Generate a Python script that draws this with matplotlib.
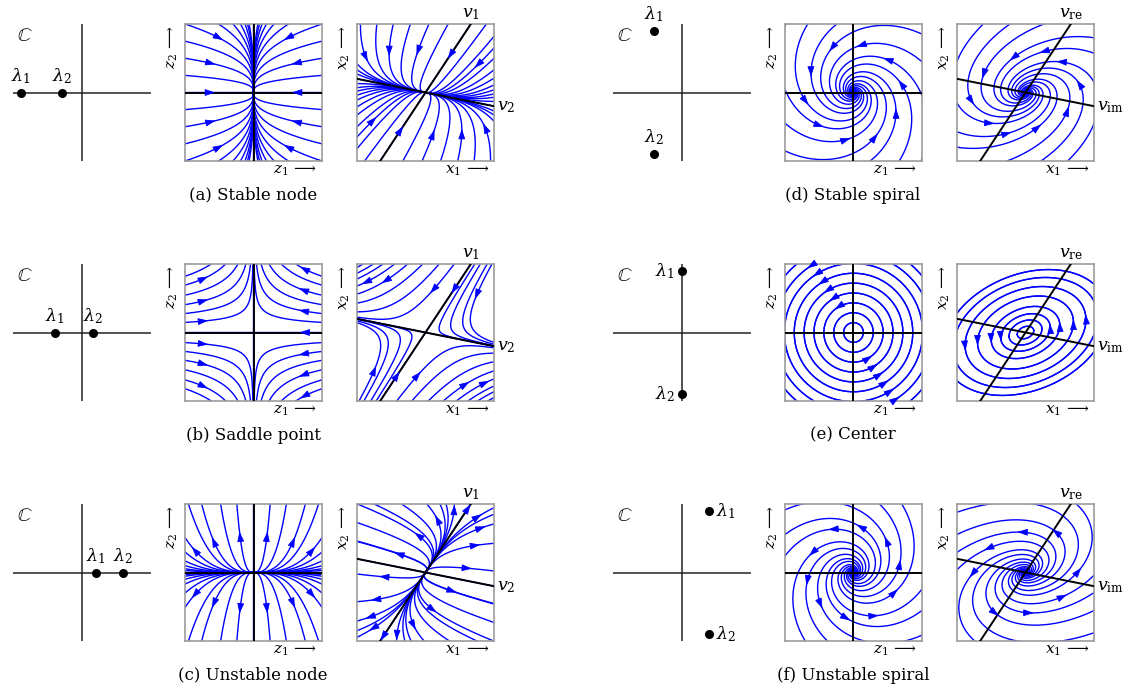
import numpy as np
import matplotlib.pyplot as plt

plt.rcParams['font.family'] = ['DejaVu Serif']
plt.rcParams['mathtext.fontset'] = 'dejavuserif'

W, H = 1126, 687

captions = ['(a) Stable node', '(b) Saddle point', '(c) Unstable node',
            '(d) Stable spiral', '(e) Center', '(f) Unstable spiral']

# eigenvalues (real part, imaginary part)
lam1 = [(-0.88, 0.0), (-0.39, 0.0), (0.20, 0.0), (-0.41, 0.90), (0.0, 0.90), (0.39, 0.90)]
lam2 = [(-0.29, 0.0), (0.16, 0.0), (0.59, 0.0), (-0.41, -0.90), (0.0, -0.90), (0.39, -0.90)]
lam_side = ['top', 'top', 'top', 'top', 'left', 'right']

# eigenvector directions in degrees
v_angles = (56.5, -11.3)
v_names_real = (r'$v_1$', r'$v_2$')
v_names_cplx = (r'$v_{\mathrm{re}}$', r'$v_{\mathrm{im}}$')

# orbit seeds / arrow spots in the diagonal coordinates z
sym_z = ['quad', 'flip', 'quad', 'point', 'point', 'point']
seeds_z = [
    [(1, 0.25), (1, 0.5), (1, 0.75), (1, 1), (0.51, 1), (0.30, 1), (0.19, 1),
     (0.125, 1), (0.088, 1), (0.064, 1)],
    [(-0.7, 0.17), (-0.7, 0.32), (-0.7, 0.47), (-0.7, 0.63), (-0.7, 0.80), (-0.7, 0.95),
     (0.7, 0.17), (0.7, 0.32), (0.7, 0.47), (0.7, 0.63), (0.7, 0.80), (0.7, 0.95)],
    [(0.88, 0.35), (0.59, 0.48), (0.2, 0.56), (0.95, 1), (0.48, 1), (1, 0.3), (1, 0.17),
     (1, 0.1), (1, 0.055), (1, 0.03)],
    [(0.08, 0.68), (0.47, 0.49), (0.68, 0.15), (0.62, -0.27), (0.33, -0.63)],
    [(-0.08, 0.12), (-0.16, 0.24), (-0.24, 0.36), (-0.32, 0.48), (-0.40, 0.60),
     (-0.48, 0.72), (-0.56, 0.84), (-0.64, 0.96), (-0.72, 1.08)],
    [(0.08, 0.68), (0.47, 0.49), (0.68, 0.15), (0.62, -0.27), (0.33, -0.63)],
]
arrows_z = [
    [(0.6, 0), (0.59, 0.42), (0.48, 0.78)],
    [(-0.7, 0.17), (-0.7, 0.47), (-0.7, 0.80), (0.7, 0.33), (0.7, 0.64), (0.7, 0.92), (0.71, 0)],
    [(0.88, 0.34), (0.59, 0.48), (0.2, 0.56)],
    [(0.08, 0.68), (0.47, 0.49), (0.68, 0.15), (0.62, -0.27), (0.33, -0.63)],
    [(-0.24, 0.36), (-0.32, 0.48), (-0.40, 0.60), (-0.48, 0.72), (-0.56, 0.84), (-0.64, 0.96)],
    [(0.08, 0.68), (0.47, 0.49), (0.68, 0.15), (0.62, -0.27), (0.33, -0.63)],
]

# orbit seeds / arrow spots in the original coordinates x (point symmetric)
seeds_x = [
    [(-0.95, 1), (-0.71, 1), (-0.47, 1), (-0.22, 1), (0.05, 1), (0.33, 1), (0.89, 1),
     (-1, 0.42), (-1, 0.33), (-1, 0.27), (-1, 0.13), (-1, 0.07), (-1, 0.02), (-1, -0.04),
     (-1, -0.11), (-1, -0.21), (-1, -0.33), (-1, -0.5), (-1, -0.65), (-1, -0.82)],
    [(-0.91, 1), (-0.76, 1), (-0.62, 1), (-0.45, 1), (-0.26, 1), (-0.04, 1), (0.2, 1),
     (0.42, 1), (0.72, 1), (0.8, 1), (0.9, 1), (0.97, 1)],
    [(0.64, 0.06), (0.42, -0.28), (0.13, -0.56), (0.76, 0.40), (0.84, 0.66), (0.79, 0.83),
     (0.42, 0.95), (0.16, 0.80), (0.21, 1), (0.30, 1), (-0.35, 1), (-0.75, 1),
     (-1, 0.73), (-1, 0.46), (-1, -0.85)],
    [(-0.2, 0.49), (0.24, 0.59), (0.49, 0.45), (0.77, 0.15), (0.62, -0.24)],
    [(0.12, 0.03), (0.24, 0.06), (0.36, 0.09), (0.5, 0.12), (0.7, 0.15), (0.88, 0.23),
     (1.05, 0.3), (1.2, 0.35)],
    [(-0.08, 0.59), (-0.57, 0.34), (-0.79, -0.04), (-0.76, -0.3), (-0.42, -0.61)],
]
arrows_x = [
    [(-0.87, 0.48), (-0.5, 0.57), (-0.085, 0.57), (0.35, 0.52), (0.73, 0.40)],
    [(-0.91, 0.75), (-0.6, 0.73), (0.06, 0.63), (0.4, 0.6), (0.72, 0.53)],
    [(0.64, 0.06), (0.42, -0.28), (0.13, -0.56), (0.76, 0.40), (0.84, 0.66), (0.79, 0.83),
     (0.42, 0.95), (0.16, 0.80), (0.64, 0.96)],
    [(-0.2, 0.49), (0.24, 0.59), (0.49, 0.45), (0.77, 0.15), (0.62, -0.24)],
    [(0.36, 0.09), (0.5, 0.12), (0.7, 0.15), (0.88, 0.23)],
    [(-0.08, 0.59), (-0.57, 0.34), (-0.79, -0.04), (-0.42, -0.61)],
]

BLUE = '#0000ff'
BOX = '#9c9c9c'


def mirror(pts, mode):
    out = []
    for x, y in pts:
        if mode == 'quad':
            cand = [(x, y), (-x, y), (x, -y), (-x, -y)]
        elif mode == 'flip':
            cand = [(x, y), (x, -y)]
        else:
            cand = [(x, y), (-x, -y)]
        for c in cand:
            if c not in out:
                out.append(c)
    return out


def orbit(x0, k, P, spin):
    re1, im1 = lam1[k]
    re2 = lam2[k][0]
    z0 = np.linalg.solve(P, np.asarray(x0, float))
    if im1 == 0:
        T = 14 / min(abs(re1), abs(re2))
        t = np.linspace(-T, T, 16001)
        z = np.vstack([z0[0] * np.exp(re1 * t), z0[1] * np.exp(re2 * t)])
    else:
        if re1 == 0:
            t = np.linspace(0, 2 * np.pi / im1, 1500)
        else:
            T = 14 / abs(re1)
            t = np.linspace(-T, T, 16001)
        w = spin * im1 * t
        r = np.exp(re1 * t)
        z = r * np.vstack([np.cos(w) * z0[0] - np.sin(w) * z0[1],
                           np.sin(w) * z0[0] + np.cos(w) * z0[1]])
    x = P @ z
    x[:, np.abs(x).max(axis=0) > 2] = np.nan
    return x


def add_px(x0, y0, w, h):
    return fig.add_axes([x0 / W, 1 - (y0 + h) / H, w / W, h / H])


def portrait(ax, k, seeds, arrows, P, spin, line_angles):
    ax.set_xlim(-1, 1)
    ax.set_ylim(-1, 1)
    ax.set_xticks([])
    ax.set_yticks([])
    for s in ax.spines.values():
        s.set_color(BOX)
        s.set_linewidth(1.2)
    curves = [orbit(s, k, P, spin) for s in seeds]
    for c in curves:
        ax.plot(c[0], c[1], color=BLUE, lw=1.0, zorder=2)
    for ang in line_angles:
        a = np.deg2rad(ang)
        ax.axline((0, 0), (np.cos(a), np.sin(a)), color='black', lw=1.4, zorder=3)
    for px, py in arrows:
        best = None
        for c in curves:
            d = np.hypot(c[0] - px, c[1] - py)
            if np.all(np.isnan(d)):
                continue
            i = np.nanargmin(d)
            if best is None or d[i] < best[0]:
                best = (d[i], c, i)
        _, c, i = best
        p = c[:, i]
        u = c[:, min(i + 1, c.shape[1] - 1)] - c[:, max(i - 1, 0)]
        u = u / np.hypot(*u)
        ax.annotate('', xy=p + 0.04 * u, xytext=p - 0.02 * u,
                    arrowprops=dict(arrowstyle='-|>,head_length=0.9,head_width=0.3',
                                    color=BLUE, lw=0.6, shrinkA=0, shrinkB=0,
                                    mutation_scale=7), zorder=5)


fig = plt.figure(figsize=(W / 100, H / 100), dpi=100)

rows_top = [24, 264, 504]
cols_left = [13, 613]
size = 137

for k in range(6):
    col, row = divmod(k, 3)
    cx, top = cols_left[col], rows_top[row]
    cplx = lam1[k][1] != 0

    # eigenvalues in the complex plane
    axc = add_px(cx, top, 138, size)
    axc.set_xlim(-1, 1)
    axc.set_ylim(-1, 1)
    axc.axis('off')
    axc.plot([-1, 1], [0, 0], color='#222222', lw=1.1)
    axc.plot([0, 0], [-1, 1], color='#222222', lw=1.1)
    axc.text(-0.83, 0.82, r'$\mathbb{C}$', ha='center', va='center', fontsize=14)
    for i, lam in enumerate((lam1[k], lam2[k])):
        axc.plot(lam[0], lam[1], 'o', color='black', ms=5.5, zorder=4)
        lab = r'$\lambda_%d$' % (i + 1)
        if lam_side[k] == 'top':
            axc.text(lam[0], lam[1] + 0.1, lab, ha='center', va='bottom', fontsize=12.5)
        elif lam_side[k] == 'left':
            axc.text(lam[0] - 0.1, lam[1], lab, ha='right', va='center', fontsize=12.5)
        else:
            axc.text(lam[0] + 0.1, lam[1], lab, ha='left', va='center', fontsize=12.5)

    # diagonal coordinates
    axz = add_px(cx + 172, top, size, size)
    sz = mirror(seeds_z[k], sym_z[k])
    if not cplx:
        sz += [(0.5, 0), (-0.5, 0), (0, 0.5), (0, -0.5)]
    portrait(axz, k, sz, mirror(arrows_z[k], sym_z[k]), np.eye(2), 1, (0, 90))
    axz.text(0.93, -1.04, r'$z_1\,\longrightarrow$', ha='right', va='top', fontsize=11)
    axz.text(-1.08, 0.98, r'$z_2\,\longrightarrow$', ha='right', va='top',
             rotation=90, fontsize=11)

    # original coordinates
    axx = add_px(cx + 344, top, size, size)
    a1, a2 = np.deg2rad(v_angles[0]), np.deg2rad(v_angles[1])
    P = np.array([[np.cos(a1), np.cos(a2)], [np.sin(a1), np.sin(a2)]])
    sx = mirror(seeds_x[k], 'point')
    if not cplx:
        sx += [tuple(0.5 * P[:, 0]), tuple(-0.5 * P[:, 0]),
               tuple(0.5 * P[:, 1]), tuple(-0.5 * P[:, 1])]
    portrait(axx, k, sx, mirror(arrows_x[k], 'point'), P, -1, v_angles)
    names = v_names_cplx if cplx else v_names_real
    axx.text(1 / np.tan(a1), 1.03, names[0], ha='center', va='bottom', fontsize=12.5,
             clip_on=False)
    axx.text(1.05, np.tan(a2), names[1], ha='left', va='center', fontsize=12.5,
             clip_on=False)
    axx.text(0.93, -1.04, r'$x_1\,\longrightarrow$', ha='right', va='top', fontsize=11)
    axx.text(-1.08, 0.98, r'$x_2\,\longrightarrow$', ha='right', va='top',
             rotation=90, fontsize=11)

    fig.text((cx + 240) / W, 1 - (top + 171) / H, captions[k], ha='center',
             va='center', fontsize=12)

fig.savefig('out.png', dpi=100)
